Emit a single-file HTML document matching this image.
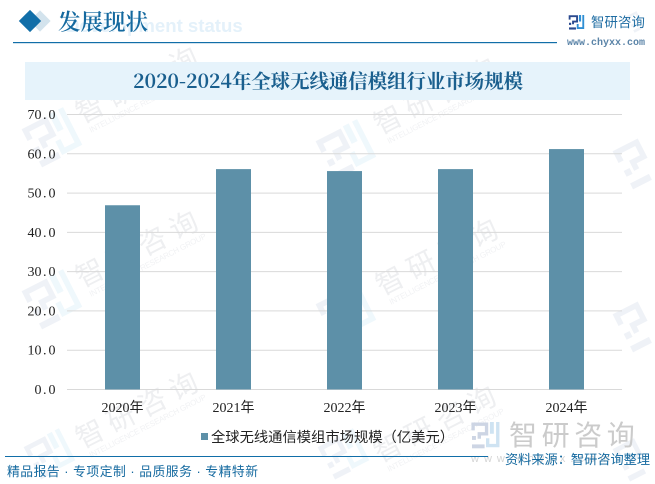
<!DOCTYPE html>
<html lang="zh">
<head>
<meta charset="utf-8">
<title>2020-2024年全球无线通信模组行业市场规模</title>
<style>
html,body{margin:0;padding:0;background:#fff;}
body{width:655px;height:484px;overflow:hidden;}
svg{display:block;}
.sans{font-family:"Liberation Sans","Noto Sans CJK SC",sans-serif;}
.serif{font-family:"Liberation Serif","Noto Serif CJK SC",serif;}
.wm-cn{font-family:"Liberation Sans","Noto Sans CJK SC",sans-serif;font-size:28px;fill:#eeeff1;letter-spacing:7px;}
.wm-en{font-family:"Liberation Sans",sans-serif;font-size:8px;fill:#f1f2f4;}
</style>
</head>
<body>
<svg id="page" width="655" height="484" viewBox="0 0 655 484" xmlns="http://www.w3.org/2000/svg">
  <defs>
    <g id="logo-left">
      <path d="M4 30V8H52V42H26V60" fill="none" stroke="currentColor" stroke-width="12"/>
      <rect x="0" y="50" width="14" height="14" fill="currentColor"/>
      <rect x="0" y="80" width="45" height="14" fill="currentColor"/>
    </g>
    <g id="logo-mark">
      <use href="#logo-left"/>
      <path d="M92 0V84H56V58" fill="none" stroke="var(--c2)" stroke-width="12"/>
      <rect x="64" y="0" width="14" height="42" fill="var(--c2)"/>
    </g>
  </defs>

  <g id="watermarks">
    <g transform="translate(82,124) rotate(-27)"><text class="wm-cn" x="0" y="0">智研咨询</text><text class="wm-en" x="4" y="12" textLength="130">INTELLIGENCE RESEARCH GROUP</text></g>
    <g transform="translate(380,135) rotate(-27)"><text class="wm-cn" x="0" y="0">智研咨询</text><text class="wm-en" x="4" y="12" textLength="130">INTELLIGENCE RESEARCH GROUP</text></g>
    <g transform="translate(82,288) rotate(-27)"><text class="wm-cn" x="0" y="0">智研咨询</text><text class="wm-en" x="4" y="12" textLength="130">INTELLIGENCE RESEARCH GROUP</text></g>
    <g transform="translate(382,296) rotate(-27)"><text class="wm-cn" x="0" y="0">智研咨询</text><text class="wm-en" x="4" y="12" textLength="130">INTELLIGENCE RESEARCH GROUP</text></g>
    <g transform="translate(82,449) rotate(-27)"><text class="wm-cn" x="0" y="0">智研咨询</text><text class="wm-en" x="4" y="12" textLength="130">INTELLIGENCE RESEARCH GROUP</text></g>
    <g transform="translate(380,463) rotate(-27)"><text class="wm-cn" x="0" y="0">智研咨询</text><text class="wm-en" x="4" y="12" textLength="130">INTELLIGENCE RESEARCH GROUP</text></g>
    <g style="color:#eff2f7;--c2:#eff8fc">
      <use href="#logo-mark" transform="translate(22,128) rotate(-27) scale(.47)"/>
      <use href="#logo-mark" transform="translate(22,290) rotate(-27) scale(.47)"/>
      <use href="#logo-mark" transform="translate(24,446) rotate(-27) scale(.4)"/>
      <use href="#logo-mark" transform="translate(316,140) rotate(-27) scale(.47)"/>
      <use href="#logo-mark" transform="translate(316,303) rotate(-27) scale(.47)"/>
      <use href="#logo-mark" transform="translate(318,446) rotate(-27) scale(.4)"/>
      <use href="#logo-left" transform="translate(613,150) rotate(-27) scale(.47)"/>
      <use href="#logo-left" transform="translate(613,313) rotate(-27) scale(.47)"/>
      <use href="#logo-left" transform="translate(613,448) rotate(-27) scale(.4)"/>
      <use href="#logo-left" transform="translate(626,16) rotate(-27) scale(.2)"/>
    </g>
  </g>

  <g>
    <rect x="-10" y="-10" width="20" height="20" fill="#d3e3ed" transform="translate(40,21) rotate(45) scale(.75)"/>
    <rect x="-10" y="-10" width="20" height="20" fill="#116ea8" transform="translate(30,21) rotate(45) scale(.79)"/>
    <text x="66" y="32" font-family="'Liberation Sans',sans-serif" font-weight="700" font-size="18.6" fill="#e4f1fa">Development status</text>
    <text class="serif" x="58" y="30" font-size="22.5" font-weight="600" fill="#14699f">发展现状</text>
    <rect x="13" y="42" width="544" height="1.2" fill="#116ea8"/>
    <use href="#logo-mark" transform="translate(569,15) scale(.155)" style="color:#2b4a8f;--c2:#2f8fd4"/>
    <text class="sans" x="591" y="27" font-size="13.4" fill="#1f6da3" letter-spacing=".1">智研咨询</text>
    <text x="567" y="45" font-family="'Liberation Mono',monospace" font-size="10" fill="#5b84a8" font-weight="700">www.chyxx.com</text>
  </g>

  <rect x="25" y="62" width="605" height="38" fill="#e6f3fb"/>
  <text x="133" y="88" font-family="'Noto Serif CJK SC',serif" font-size="19.5" font-weight="700" fill="#1a5f8e" textLength="390" lengthAdjust="spacing">2020-2024年全球无线通信模组行业市场规模</text>

  <g id="gridlines"></g>
  <g id="y-axis"></g>
  <g id="bars"></g>
  <g id="x-axis"></g>

  <g>
    <rect x="201" y="433" width="7" height="7" fill="#5d90a8"/>
    <text class="sans" x="211" y="442" font-size="14.3" fill="#222">全球无线通信模组市场规模（亿美元）</text>
  </g>

  <g>
    <use href="#logo-mark" transform="translate(472,422) scale(.28)" style="color:#cdd5e4;--c2:#cfe3f2"/>
    <text class="sans" x="509" y="445" font-size="28" fill="#cbcbcb" letter-spacing="4.6">智研咨询</text>
    <text x="471" y="462" font-family="'Liberation Sans',sans-serif" font-size="11" fill="#d5d5d5" letter-spacing="5">www.chyxx.com</text>
    <rect x="5" y="456" width="483" height="1" fill="#116ea8"/>
    <text class="sans" x="7" y="476" font-size="12.8" fill="#14699f" textLength="251" lengthAdjust="spacing">精品报告 · 专项定制 · 品质服务 · 专精特新</text>
    <text class="sans" x="505" y="464" font-size="13.2" fill="#14699f">资料来源：智研咨询整理</text>
  </g>
</svg>

<script>
const categories = ['2020年', '2021年', '2022年', '2023年', '2024年'];
const seriesValues = [46.9, 56.1, 55.6, 56.1, 61.2];
const yTicks = [0, 10, 20, 30, 40, 50, 60, 70];

const SVG_NS = 'http://www.w3.org/2000/svg';
const plot = { left: 67, right: 622, top: 114.5, bottom: 389.5 };
const yMax = 70;
const barWidth = 35;
const digitCell = 7;

function yScale(v) {
  return plot.bottom - (v / yMax) * (plot.bottom - plot.top);
}
function xBand(i) {
  const step = (plot.right - plot.left) / categories.length;
  return plot.left + step * (i + 0.5);
}
function make(tag, attrs) {
  const el = document.createElementNS(SVG_NS, tag);
  for (const k in attrs) el.setAttribute(k, attrs[k]);
  return el;
}
function cellPositions(str, rightEdge) {
  const start = rightEdge - digitCell * str.length;
  return str.split('').map(function (ch, i) {
    return start + digitCell * i + (ch === '.' ? 1.5 : 0);
  }).join(' ');
}

const gridG = document.getElementById('gridlines');
const yG = document.getElementById('y-axis');
yTicks.forEach(function (t) {
  const y = yScale(t);
  const line = make('line', { x1: plot.left, x2: plot.right, y1: y, y2: y, stroke: '#d9d9d9', 'stroke-width': 1 });
  
  
  gridG.appendChild(line);

  const str = t.toFixed(1);
  const label = make('text', { x: cellPositions(str, 55.5), y: y + 4.5, fill: '#222', 'font-size': 14, 'font-family': '"Liberation Serif",serif' });
  
  
  label.textContent = str;
  yG.appendChild(label);
});

const barsG = document.getElementById('bars');
const xG = document.getElementById('x-axis');
seriesValues.forEach(function (v, i) {
  const cx = xBand(i);
  const bar = make('rect', { x: cx - barWidth / 2, y: yScale(v), width: barWidth, height: yScale(0) - yScale(v), fill: '#5d90a8' });
  
  
  barsG.appendChild(bar);
});
categories.forEach(function (c, i) {
  const label = make('text', { x: xBand(i), y: 412, 'text-anchor': 'middle', fill: '#222', 'font-size': 14, 'font-family': '"Liberation Serif","Noto Sans CJK SC",sans-serif' });
  
  
  label.textContent = c;
  xG.appendChild(label);
});
</script>
</body>
</html>
